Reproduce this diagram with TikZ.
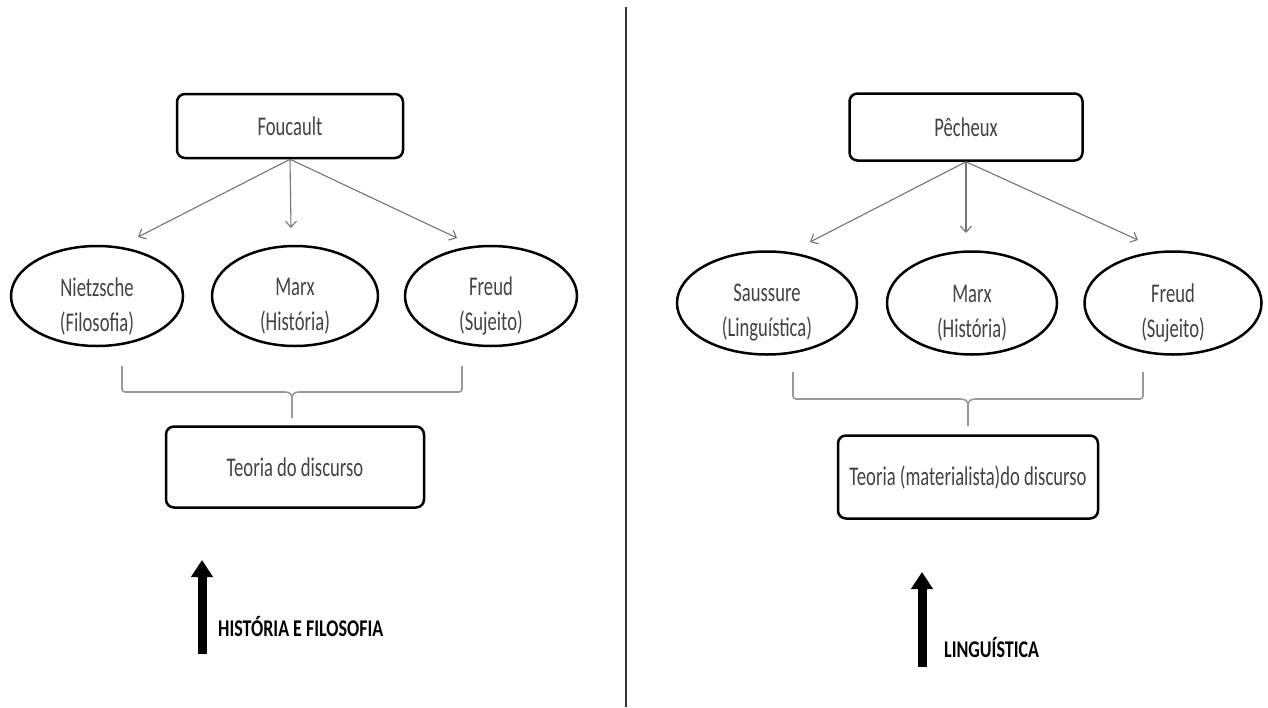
\documentclass[tikz,border=0pt]{standalone}
\usepackage{fontspec}
\setmainfont{Carlito}[FakeStretch=0.69]
\newfontfamily\capfont{Carlito}[FakeStretch=0.75]
\usetikzlibrary{arrows.meta,shapes.geometric}
\begin{document}
\begin{tikzpicture}[x=1pt,y=-1pt,
  txt/.style={text=black!74, font=\fontsize{27}{35}\selectfont, align=center, inner sep=0pt},
  rbox/.style={draw=black, line width=2.5pt, rounded corners=8pt, inner sep=0pt, text=black!74,
               font=\fontsize{27}{35}\selectfont},
  oval/.style={draw=black, line width=2.5pt, ellipse, inner sep=0pt},
  link/.style={draw=black!55, line width=1.1pt, -{Straight Barb[length=6pt,width=11pt]}},
  brace/.style={draw=black!40, line width=1.6pt, rounded corners=3pt},
  bigarrow/.style={draw=black, line width=9pt, -{Triangle[width=21pt,length=17pt]}},
  caption/.style={font=\capfont\bfseries\fontsize{24}{28}\selectfont, anchor=west, inner sep=0pt, text=black}
]
\useasboundingbox (0,0) rectangle (1268,707);

% divider between the two schemes
\coordinate (divtop) at (626,7);
\coordinate (divbot) at (626,707);
\draw[black!80, line width=2pt] (divtop) -- (divbot);

% ---------------- left scheme: Foucault ----------------
\node[rbox, minimum width=226pt, minimum height=64pt] (fou) at (290,126) {Foucault};

\node[oval, minimum width=172pt, minimum height=100pt] (nie) at (97,296) {};
\node[oval, minimum width=166pt, minimum height=100pt] (marxL) at (295,296) {};
\node[oval, minimum width=172pt, minimum height=100pt] (freL) at (491,296) {};
\node[txt] (nieT) at (97,306) {Nietzsche\\(Filosofia)};
\node[txt] (marxLT) at (295,306) {Marx\\(História)};
\node[txt] (freLT) at (491,306) {Freud\\(Sujeito)};

\coordinate (aL1) at (138,237);
\coordinate (aL2) at (291,228);
\coordinate (aL3) at (457,238);
\draw[link] (fou.south) -- (aL1);
\draw[link] (fou.south) -- (aL2);
\draw[link] (fou.south) -- (aL3);

% grouping brace
\coordinate (bL1) at (122,366);
\coordinate (bL2) at (462,366);
\coordinate (bLm) at (292,418);
\draw[brace] (bL1) -- (122,392) -- (285,392);
\draw[brace] (bL2) -- (462,392) -- (299,392);
\draw[draw=black!40, line width=1.6pt]
  (284,392) .. controls (290,392) and (292,394) .. (292,399) -- (bLm)
  (300,392) .. controls (294,392) and (292,394) .. (292,399);

\node[rbox, minimum width=258pt, minimum height=81pt] (teoL) at (295,467) {Teoria do discurso};

\coordinate (upL0) at (202,654);
\coordinate (upL1) at (202,560);
\draw[bigarrow] (upL0) -- (upL1);
\node[caption] (capL) at (218,626) {HISTÓRIA E FILOSOFIA};

% ---------------- right scheme: Pêcheux ----------------
\node[rbox, minimum width=233pt, minimum height=67pt] (pec) at (966,127) {Pêcheux};

\node[oval, minimum width=180pt, minimum height=103pt] (sau) at (767,303) {};
\node[oval, minimum width=170pt, minimum height=103pt] (marxR) at (972,303) {};
\node[oval, minimum width=177pt, minimum height=103pt] (freR) at (1173,303) {};
\node[txt] (sauT) at (767,313) {Saussure\\(Linguística)};
\node[txt] (marxRT) at (972,313) {Marx\\(História)};
\node[txt] (freRT) at (1173,313) {Freud\\(Sujeito)};

\coordinate (aR1) at (810,242);
\coordinate (aR2) at (966,233);
\coordinate (aR3) at (1138,240);
\draw[link] (pec.south) -- (aR1);
\draw[link] (pec.south) -- (aR2);
\draw[link] (pec.south) -- (aR3);

\coordinate (bR1) at (793,372);
\coordinate (bR2) at (1143,372);
\coordinate (bRm) at (968,426);
\draw[brace] (bR1) -- (793,399) -- (961,399);
\draw[brace] (bR2) -- (1143,399) -- (975,399);
\draw[draw=black!40, line width=1.6pt]
  (960,399) .. controls (966,399) and (968,401) .. (968,406) -- (bRm)
  (976,399) .. controls (970,399) and (968,401) .. (968,406);

\node[rbox, minimum width=260pt, minimum height=83pt] (teoR) at (968,477) {Teoria (materialista)do discurso};

\coordinate (upR0) at (922,667);
\coordinate (upR1) at (922,572);
\draw[bigarrow] (upR0) -- (upR1);
\node[caption] (capR) at (944,647) {LINGUÍSTICA};
\end{tikzpicture}
\end{document}
